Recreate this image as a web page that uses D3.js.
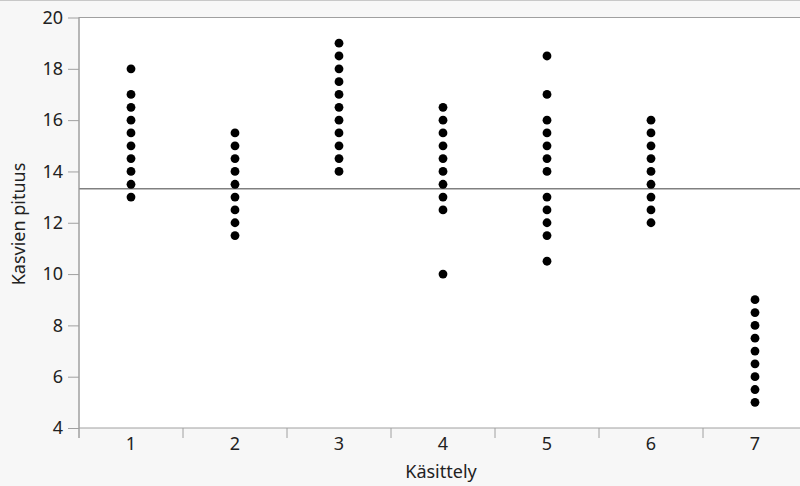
<!DOCTYPE html>
<html>
<head>
<meta charset="utf-8">
<script src="https://cdn.jsdelivr.net/npm/d3@7"></script>
<style>
  html, body { margin: 0; padding: 0; background: #f7f7f7; }
  svg { display: block; }
  .axis text { font-family: "Noto Sans", sans-serif; font-size: 18px; fill: #222; }
  .axis path, .axis line { stroke: #a0a0a0; }
  .title { font-family: "Noto Sans", sans-serif; font-size: 18px; fill: #222; }
</style>
</head>
<body>
<div id="chart"></div>
<script>
// treatment groups (Käsittely)
var categories = ["1", "2", "3", "4", "5", "6", "7"];
// plant lengths per treatment (Kasvien pituus)
var group1 = [18, 17, 16.5, 16, 15.5, 15, 14.5, 14, 13.5, 13];
var group2 = [15.5, 15, 14.5, 14, 13.5, 13, 12.5, 12, 11.5];
var group3 = [19, 18.5, 18, 17.5, 17, 16.5, 16, 15.5, 15, 14.5, 14];
var group4 = [16.5, 16, 15.5, 15, 14.5, 14, 13.5, 13, 12.5, 10];
var group5 = [18.5, 17, 16, 15.5, 15, 14.5, 14, 13, 12.5, 12, 11.5, 10.5];
var group6 = [16, 15.5, 15, 14.5, 14, 13.5, 13, 12.5, 12];
var group7 = [9, 8.5, 8, 7.5, 7, 6.5, 6, 5.5, 5];
var groups = [group1, group2, group3, group4, group5, group6, group7];
// overall mean reference line
var meanValue = 13.33;
var yTicks = [4, 6, 8, 10, 12, 14, 16, 18, 20];

var width = 800, height = 486;
var margin = { top: 17.5, left: 79, bottom: 58, right: -7 };

var svg = d3.select("#chart").append("svg")
  .attr("width", width)
  .attr("height", height);

var x = d3.scaleBand()
  .domain(categories)
  .range([margin.left, width - margin.right]);

var y = d3.scaleLinear()
  .domain([4, 20])
  .range([height - margin.bottom, margin.top]);

// top border of the window
svg.append("line")
  .attr("x1", 0).attr("x2", width)
  .attr("y1", 0.5).attr("y2", 0.5)
  .attr("stroke", "#c8c8c8");

// plot background
svg.append("rect")
  .attr("x", margin.left)
  .attr("y", y(20))
  .attr("width", width - margin.right - margin.left)
  .attr("height", y(4) - y(20))
  .attr("fill", "#ffffff")
  .attr("stroke", "#a0a0a0");

// mean line
svg.append("line")
  .attr("x1", margin.left).attr("x2", width)
  .attr("y1", y(meanValue)).attr("y2", y(meanValue))
  .attr("stroke", "#808080")
  .attr("stroke-width", 1.5);

// y axis
svg.append("g")
  .attr("class", "axis")
  .attr("transform", "translate(" + margin.left + ",0)")
  .call(d3.axisLeft(y).tickValues(yTicks).tickSize(11).tickPadding(5).tickFormat(d3.format("d")))
  .call(function(g) { g.select(".domain").remove(); });

svg.append("line")
  .attr("x1", margin.left).attr("x2", margin.left)
  .attr("y1", y(20)).attr("y2", y(4) + 10)
  .attr("stroke", "#a0a0a0");

// x axis
var xAxis = svg.append("g")
  .attr("class", "axis")
  .attr("transform", "translate(0," + y(4) + ")")
  .call(d3.axisBottom(x).tickSize(0).tickPadding(9));
xAxis.select(".domain").remove();

xAxis.selectAll(".sep")
  .data(categories)
  .enter().append("line")
  .attr("class", "sep")
  .attr("x1", function(d) { return x(d); })
  .attr("x2", function(d) { return x(d); })
  .attr("y1", 0).attr("y2", 10)
  .attr("stroke", "#a0a0a0");

// points
groups.forEach(function(vals, i) {
  svg.append("g").selectAll("circle")
    .data(vals)
    .enter().append("circle")
    .attr("cx", x(categories[i]) + x.bandwidth() / 2)
    .attr("cy", function(d) { return y(d); })
    .attr("r", 4.4)
    .attr("fill", "#000");
});

// axis titles
svg.append("text")
  .attr("class", "title")
  .attr("x", 441)
  .attr("y", 478)
  .attr("text-anchor", "middle")
  .text("Käsittely");

svg.append("text")
  .attr("class", "title")
  .attr("transform", "translate(25,224) rotate(-90)")
  .attr("text-anchor", "middle")
  .text("Kasvien pituus");
</script>
</body>
</html>
